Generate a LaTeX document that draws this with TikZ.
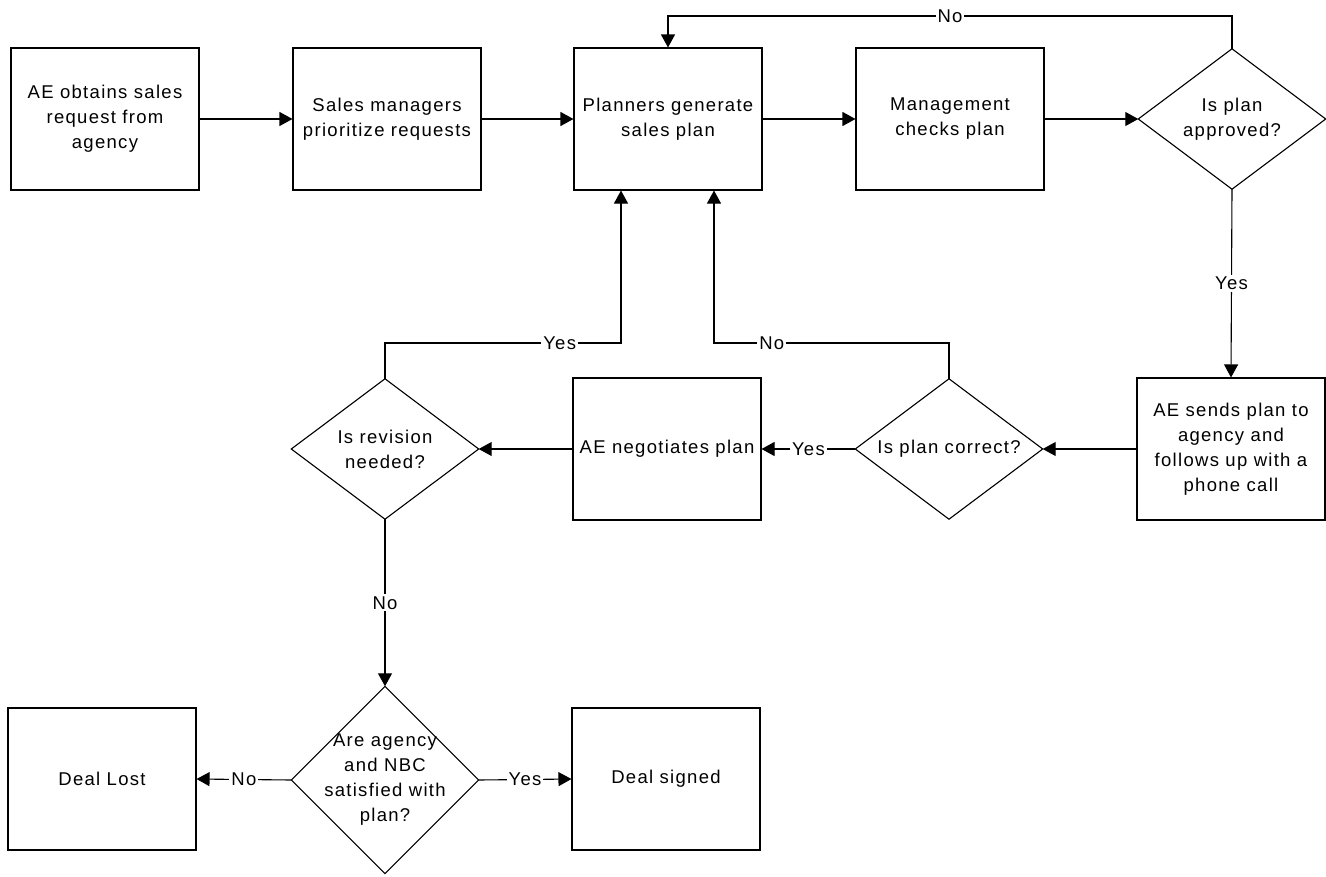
\documentclass[tikz,border=0pt]{standalone}
\usepackage{fontspec}
\setmainfont{Liberation Sans}[LetterSpace=7]
\usetikzlibrary{arrows.meta}
\begin{document}
\begin{tikzpicture}[x=1pt,y=-1pt,
  every node/.style={font=\fontsize{18.5}{25}\selectfont, text=black},
  stepbox/.style={draw=black, line width=1.1pt, minimum width=188pt, minimum height=142pt, align=center, inner sep=0pt},
  diam/.style={draw=none, minimum width=187pt, minimum height=140pt, align=center, inner sep=0pt},
  arr/.style={line width=1.1pt, -{Triangle[length=13pt,width=14pt]}},
  lbl/.style={fill=white, inner sep=2pt}]
\useasboundingbox (0,0) rectangle (1326,876);
% boxes
\node[stepbox] (n1) at (105,119) {AE obtains sales\\request from\\agency};
\node[stepbox] (n2) at (387,119) {Sales managers\\prioritize requests};
\node[stepbox] (n3) at (668,119) {Planners generate\\sales plan};
\node[stepbox] (n4) at (950,119) {Management\\checks plan};
\node[diam] (d1) at (1232,119) {Is plan\\approved?};
\node[stepbox] (n5) at (1231,449) {AE sends plan to\\agency and\\follows up with a\\phone call};
\node[diam] (d2) at (949,449) {Is plan correct?};
\node[stepbox] (n6) at (667,449) {AE negotiates plan};
\node[diam] (d3) at (385,449) {Is revision\\needed?};
\node[diam, minimum height=187pt] (d4) at (385,780) {Are agency\\and NBC\\satisfied with\\plan?};
\node[stepbox] (n7) at (102,779) {Deal Lost};
\node[stepbox] (n8) at (666,779) {Deal signed};
% diamond outlines
\foreach \d in {d1,d2,d3,d4}
  \draw[line width=1.1pt, line join=miter] (\d.north) -- (\d.east) -- (\d.south) -- (\d.west) -- cycle;
% connectors
\draw[arr] (n1) -- (n2);
\draw[arr] (n2) -- (n3);
\draw[arr] (n3) -- (n4);
\draw[arr] (n4) -- (d1);
\coordinate (c1) at (668,16);
\draw[arr] (d1.north) |- node[pos=0.75, lbl] {No} (c1) -- (n3.north);
\draw[arr] (d1.south) -- node[lbl] {Yes} (n5.north);
\draw[arr] (n5.west) -- (d2.east);
\draw[arr] (d2.west) -- node[lbl] {Yes} (n6.east);
\coordinate (c2) at (714,343);
\draw[arr] (d2.north) |- node[pos=0.877, lbl] {No} (c2) -- (c2 |- n3.south);
\draw[arr] (n6.west) -- (d3.east);
\coordinate (c3) at (621,343);
\draw[arr] (d3.north) |- node[pos=0.87, lbl] {Yes} (c3) -- (c3 |- n3.south);
\draw[arr] (d3.south) -- node[lbl] {No} (d4.north);
\draw[arr] (d4.west) -- node[lbl] {No} (n7.east);
\draw[arr] (d4.east) -- node[lbl] {Yes} (n8.west);
\end{tikzpicture}
\end{document}
